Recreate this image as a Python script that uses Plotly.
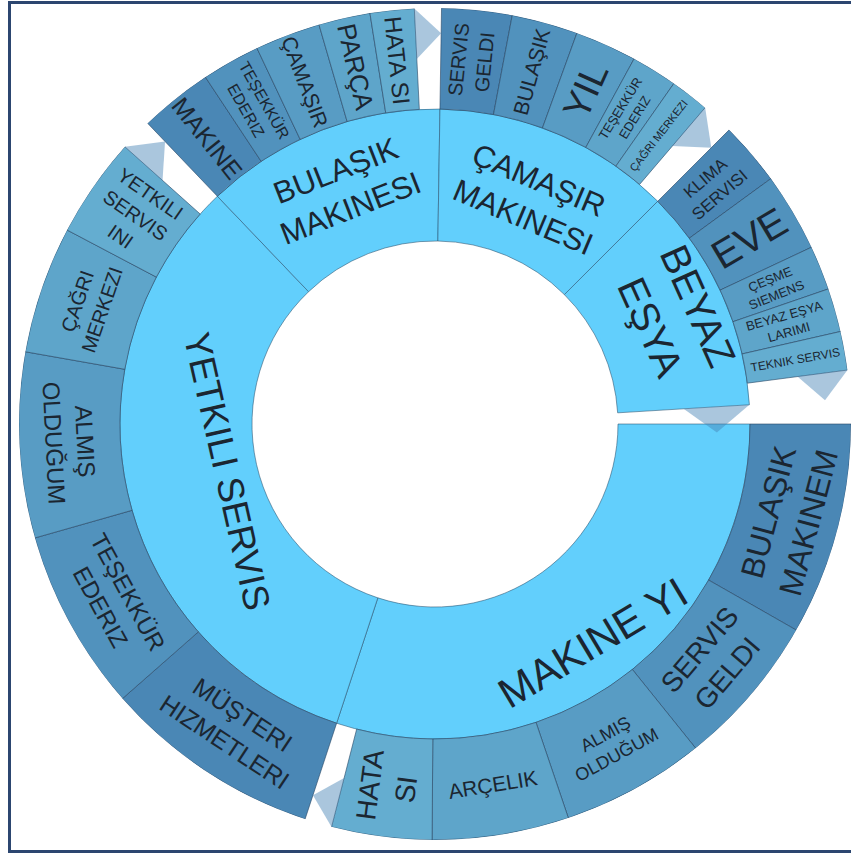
import plotly.graph_objects as go
import math

# ---------------- data ----------------
categories = ["MAKINE YI", "YETKILI SERVIS", "BULAŞIK<br>MAKINESI", "ÇAMAŞIR<br>MAKINESI", "BEYAZ<br>EŞYA"]
category_values = [108.2, 118.1, 44.6, 44.1, 41.5]

makine_yi_labels = ["BULAŞIK<br>MAKINEM", "SERVIS<br>GELDI", "ALMIŞ<br>OLDUĞUM", "ARÇELIK", "HATA<br>SI"]
makine_yi_values = [29.7, 21.5, 20.1, 19.1, 14.0]

yetkili_labels = ["MÜŞTERI<br>HIZMETLERI", "TEŞEKKÜR<br>EDERIZ", "ALMIŞ<br>OLDUĞUM", "ÇAĞRI<br>MERKEZI", "YETKILI<br>SERVIS<br>INI"]
yetkili_values = [30.5, 25.4, 25.9, 17.8, 14.0]

bulasik_labels = ["MAKINE", "TEŞEKKÜR<br>EDERIZ", "ÇAMAŞIR", "PARÇA", "HATA SI"]
bulasik_values = [10.2, 8.15, 9.15, 7.2, 6.15]

camasir_labels = ["SERVIS<br>GELDI", "BULAŞIK", "YIL", "TEŞEKKÜR<br>EDERIZ", "ÇAĞRI MERKEZI"]
camasir_values = [9.8, 9.25, 8.65, 6.45, 5.45]

beyaz_labels = ["KLIMA<br>SERVISI", "EVE", "ÇEŞME<br>SIEMENS", "BEYAZ EŞYA<br>LARIMI", "TEKNIK SERVIS"]
beyaz_values = [8.85, 11.0, 6.2, 6.1, 5.4]

FULL_CIRCLE = 360.0  # value units that make one full turn

children_labels = [makine_yi_labels, yetkili_labels, bulasik_labels, camasir_labels, beyaz_labels]
children_values = [makine_yi_values, yetkili_values, bulasik_values, camasir_values, beyaz_values]

# ---------------- style ----------------
W, H = 851, 854
CX, CY = 435, 424            # ring centre in figure px (from top-left)
R_OUT, R_MID, R_HOLE = 416, 315, 183
INNER_COLOR = "#62CFFC"
SHADES = ["#4a87b5", "#5192bd", "#589cc4", "#5ea5ca", "#64add0"]
FLAP_COLOR = "rgba(70,130,180,0.46)"
TEXT_COLOR = "#1b2631"
FONT = "Liberation Sans, Arial, sans-serif"

inner_font = [42, 37, 31, 31, 40]
inner_label_r = [270, 213, 252, 245, 262]
inner_angle_adjust = [5, 0, 0, 0, 0]
child_font = [[32, 28, 18, 21, 28],
              [25, 24, 24, 20, 20],
              [25, 16, 21, 26, 24],
              [20, 21, 38, 13, 11],
              [17, 40, 13, 13, 12]]
child_orient = [["tan", "tan", "tan", "tan", "rad"],
                ["tan", "tan", "tan", "tan", "rad"],
                ["rad"] * 5, ["rad"] * 5, ["rad"] * 5]

scale = 360.0 / FULL_CIRCLE


def text_angle(theta, orient):
    a = theta + 90 if orient == "tan" else theta
    return ((a + 90) % 180) - 90


def to_paper(r, theta):
    x = CX + r * math.cos(math.radians(theta))
    y = CY + r * math.sin(math.radians(theta))
    return x / W, 1 - y / H


fig = go.Figure()
annotations = []
flaps = []  # (r_inner, r_outer, edge_angle, apex_angle)

# inner ring
in_theta, in_width = [], []
start = 0.0
starts, ends = [], []
for v in category_values:
    w = v * scale
    starts.append(start)
    in_theta.append(start + w / 2)
    in_width.append(w)
    start += w
    ends.append(start)

fig.add_trace(go.Barpolar(
    theta=in_theta, width=in_width, r=[R_MID - R_HOLE] * len(categories), base=[R_HOLE] * len(categories),
    marker=dict(color=INNER_COLOR, line=dict(color="rgba(40,80,110,0.55)", width=1)),
    hoverinfo="skip", showlegend=False))
if ends[-1] < 360:
    flaps.append(((R_HOLE + R_MID) / 2, R_MID, ends[-1], 360.0 + 0.5 * (360.0 - ends[-1])))

for lab, th, fs, rl, adj in zip(categories, in_theta, inner_font, inner_label_r, inner_angle_adjust):
    x, y = to_paper(rl, th)
    annotations.append(dict(x=x, y=y, xref="paper", yref="paper", text=lab, showarrow=False,
                            textangle=text_angle(th, "tan") + adj, xanchor="center", yanchor="middle",
                            font=dict(size=fs, color=TEXT_COLOR, family=FONT)))

# outer ring
for gi, (labs, vals) in enumerate(zip(children_labels, children_values)):
    s = starts[gi]
    th_list, w_list = [], []
    for v in vals:
        w = v * scale
        th_list.append(s + w / 2)
        w_list.append(w)
        s += w
    fig.add_trace(go.Barpolar(
        theta=th_list, width=w_list, r=[R_OUT - R_MID] * len(vals), base=[R_MID] * len(vals),
        marker=dict(color=SHADES[:len(vals)], line=dict(color="rgba(40,70,100,0.6)", width=1)),
        hoverinfo="skip", showlegend=False))
    if s < ends[gi]:
        flaps.append(((R_MID + R_OUT) / 2, R_OUT, s, ends[gi]))
    for lab, th, fs, orient in zip(labs, th_list, child_font[gi], child_orient[gi]):
        x, y = to_paper((R_MID + R_OUT) / 2, th)
        annotations.append(dict(x=x, y=y, xref="paper", yref="paper", text=lab, showarrow=False,
                                textangle=text_angle(th, orient), xanchor="center", yanchor="middle",
                                font=dict(size=fs, color=TEXT_COLOR, family=FONT)))

# folded "flap" triangles at the clockwise end of shortened groups
for r0, r1, e, apex in flaps:
    fig.add_trace(go.Scatterpolar(
        r=[r1, r0, (r0 + r1) / 2, r1], theta=[e, e, apex, e], mode="lines", fill="toself",
        fillcolor=FLAP_COLOR, line=dict(width=0, color=FLAP_COLOR), hoverinfo="skip", showlegend=False))

fig.update_layout(
    width=W, height=H, autosize=False,
    margin=dict(l=0, r=0, t=0, b=0),
    paper_bgcolor="white", plot_bgcolor="white",
    polar=dict(
        domain=dict(x=[(CX - R_OUT) / W, min(1.0, (CX + R_OUT) / W)],
                    y=[(H - CY - R_OUT) / H, min(1.0, (H - CY + R_OUT) / H)]),
        bgcolor="rgba(0,0,0,0)", bargap=0,
        radialaxis=dict(range=[0, R_OUT], visible=False, showgrid=False),
        angularaxis=dict(direction="clockwise", rotation=0, visible=False, showgrid=False),
    ),
    annotations=annotations,
    shapes=[dict(type="rect", xref="paper", yref="paper",
                 x0=9.5 / W, x1=1.02, y0=1 - 851.5 / H, y1=1 - 2.5 / H,
                 line=dict(color="#2c4670", width=3), layer="below")],
    showlegend=False,
)

fig.write_html(
    "out.html",
    config={"displayModeBar": False},
    post_script="document.body.style.margin='0';"
                "document.body.style.overflow='hidden';"
                "document.documentElement.style.overflow='hidden';",
)
